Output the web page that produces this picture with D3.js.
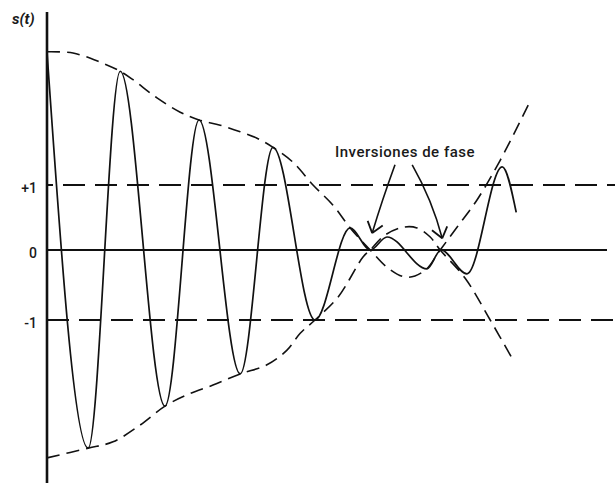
<!DOCTYPE html>
<html>
<head>
<meta charset="utf-8">
<script src="https://cdn.jsdelivr.net/npm/d3@7"></script>
<style>
  body { margin: 0; background: #fff; }
  text { font-family: Roboto, "DejaVu Sans", sans-serif; fill: #1a1a1a; }
</style>
</head>
<body>
<div id="chart"></div>
<script>
// signal s(t): extrema (t in arbitrary units, s in units of the +1 level)
const signalT = [0, 1.03, 1.83, 2.95, 3.8, 4.83, 5.65, 6.7, 7.58, 8.08, 8.5, 9.5, 9.85, 10.5, 11.38, 11.73];
const signalV = [3.05, -2.83, 2.75, -2.23, 2.0, -1.77, 1.58, -1.0, 0.34, 0, 0.2, -0.27, 0, -0.34, 1.28, 0.58];

// envelope starting at the top
const env1T = [0, 0.65, 1.33, 1.83, 2.15, 2.75, 3.33, 3.8, 4.33, 4.83, 5.25, 5.65, 6.15, 6.65, 7.15, 7.58, 8.08, 8.53, 9.0, 9.45, 9.83, 10.25, 10.75, 11.33, 12.03];
const env1V = [3.05, 3.03, 2.89, 2.75, 2.62, 2.34, 2.12, 2.0, 1.92, 1.82, 1.72, 1.58, 1.35, 1.0, 0.69, 0.34, 0, -0.26, -0.39, -0.29, 0, 0.35, 0.77, 1.38, 2.23];

// envelope starting at the bottom
const env2T = [0, 1.03, 1.65, 2.33, 2.95, 3.5, 4.15, 4.83, 5.5, 6.0, 6.33, 6.7, 7.28, 7.9, 8.08, 8.45, 8.9, 9.25, 9.58, 9.83, 10.45, 11.08, 11.65];
const env2V = [-2.97, -2.83, -2.74, -2.5, -2.23, -2.07, -1.93, -1.77, -1.64, -1.43, -1.19, -1.0, -0.67, -0.1, 0, 0.23, 0.35, 0.34, 0.2, 0, -0.4, -1.0, -1.57];

const levelValues = [1, 0, -1];
const levelLabels = ["+1", "0", "-1"];

const axisTop = 3.66, axisBottom = -3.35;
const tEnd = 14, tDashEnd = 14.2;

const annotationText = "Inversiones de fase";
const annotationPos = [7.2, 1.43];
// arrows: [start, control, tip] in (t, s)
const arrows = [
  [[8.7, 1.31], [8.38, 0.77], [8.13, 0.26]],
  [[9.13, 1.31], [9.63, 0.77], [9.88, 0.18]]
];

const width = 615, height = 483;

const svg = d3.select("#chart")
  .append("svg")
  .attr("width", width)
  .attr("height", height);

const x = d3.scaleLinear().domain([0, 14]).range([47, 607]);
const y = d3.scaleLinear().domain([-1, 0, 1]).range([320, 250, 185]);

const line = d3.line().x(d => x(d[0])).y(d => y(d[1]));

// +1 / -1 dashed levels
svg.selectAll(".level")
  .data([1, -1])
  .enter().append("line")
  .attr("class", "level")
  .attr("x1", x(0)).attr("x2", x(tDashEnd))
  .attr("y1", d => y(d)).attr("y2", d => y(d))
  .attr("stroke", "#111")
  .attr("stroke-width", 2)
  .attr("stroke-dasharray", "22,10")
  .attr("stroke-dashoffset", d => d > 0 ? 16 : 0);

// zero line
svg.append("line")
  .attr("x1", x(0)).attr("x2", x(tEnd))
  .attr("y1", y(0)).attr("y2", y(0))
  .attr("stroke", "#111")
  .attr("stroke-width", 2);

// envelopes
const envs = [d3.zip(env1T, env1V), d3.zip(env2T, env2V)];
svg.selectAll(".env")
  .data(envs)
  .enter().append("path")
  .attr("class", "env")
  .attr("d", line.curve(d3.curveCatmullRom.alpha(0.5)))
  .attr("fill", "none")
  .attr("stroke", "#111")
  .attr("stroke-width", 1.6)
  .attr("stroke-dasharray", "13,7");

// signal
svg.append("path")
  .datum(d3.zip(signalT, signalV))
  .attr("d", d3.line().x(d => x(d[0])).y(d => y(d[1])).curve(d3.curveMonotoneX))
  .attr("fill", "none")
  .attr("stroke", "#111")
  .attr("stroke-width", 1.7);

// y axis
svg.append("line")
  .attr("x1", x(0)).attr("x2", x(0))
  .attr("y1", y(axisTop)).attr("y2", y(axisBottom))
  .attr("stroke", "#111")
  .attr("stroke-width", 2.6);

const yAxis = d3.axisLeft(y)
  .tickValues(levelValues)
  .tickSize(0)
  .tickPadding(10)
  .tickFormat((d, i) => levelLabels[i]);

const gy = svg.append("g")
  .attr("transform", `translate(${x(0)},0)`)
  .call(yAxis);
gy.select(".domain").remove();
gy.selectAll("text")
  .attr("dy", "0.55em")
  .style("font-size", "14px")
  .style("font-weight", 500)
  .style("font-family", "Roboto, sans-serif")
  .attr("fill", "#1a1a1a");

svg.append("text")
  .attr("x", 12).attr("y", 24)
  .style("font-size", "15px")
  .style("font-weight", 700)
  .style("font-style", "italic")
  .text("s(t)");

// annotation
svg.append("text")
  .attr("x", x(annotationPos[0])).attr("y", y(annotationPos[1]))
  .style("font-size", "15px")
  .style("font-weight", 500)
  .style("letter-spacing", "0.5px")
  .text(annotationText);

arrows.forEach(a => {
  const p = a.map(d => [x(d[0]), y(d[1])]);
  const path = d3.path();
  path.moveTo(p[0][0], p[0][1]);
  path.quadraticCurveTo(p[1][0], p[1][1], p[2][0], p[2][1]);
  svg.append("path")
    .attr("d", path.toString())
    .attr("fill", "none")
    .attr("stroke", "#111")
    .attr("stroke-width", 1.6);
  // arrow head wings
  const tip = p[2];
  const ang = Math.atan2(tip[1] - p[1][1], tip[0] - p[1][0]);
  const head = d3.path();
  [ang + Math.PI - 0.65, ang + Math.PI + 0.65].forEach(w => {
    head.moveTo(tip[0] + 13 * Math.cos(w), tip[1] + 13 * Math.sin(w));
    head.lineTo(tip[0], tip[1]);
  });
  svg.append("path")
    .attr("d", head.toString())
    .attr("fill", "none")
    .attr("stroke", "#111")
    .attr("stroke-width", 1.8);
});
</script>
</body>
</html>
